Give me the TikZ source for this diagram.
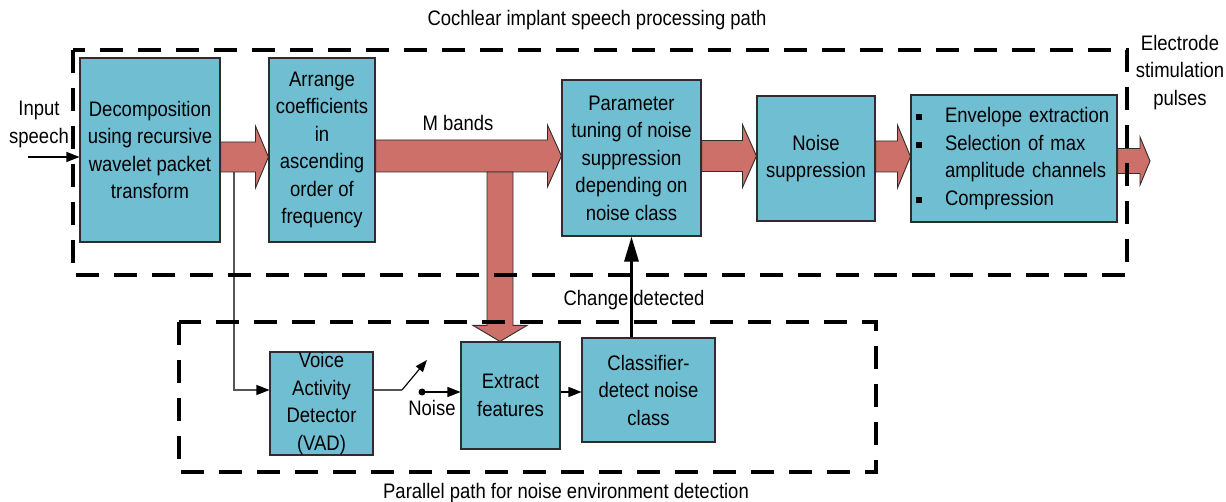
\documentclass[tikz,border=0pt]{standalone}
\usepackage{fontspec}
\setmainfont{Liberation Sans}[FakeStretch=0.88]
\usetikzlibrary{arrows.meta,calc}
\definecolor{boxfill}{RGB}{112,190,210}
\definecolor{bandfill}{RGB}{205,112,105}
\definecolor{edge}{RGB}{45,45,45}
\definecolor{wire}{RGB}{85,85,85}
\newcommand\labelfont{\fontsize{21}{27.5}\selectfont}
\newcommand\blt{\makebox[34pt][l]{\hspace{5pt}\raisebox{2.5pt}{\rule{6pt}{6pt}}}}
% wide band arrow pointing right: from point, to point, y centre, shaft half width, head half width, head length
\newcommand\fatright[6]{%
  \path[band] let \p1=(#1), \p2=(#2) in
    (\x1,#3-#4) -- (\x2-#6pt,#3-#4) -- (\x2-#6pt,#3-#5) -- (\x2,#3)
    -- (\x2-#6pt,#3+#5) -- (\x2-#6pt,#3+#4) -- (\x1,#3+#4) -- cycle;}
\begin{document}
\begin{tikzpicture}[x=1pt,y=-1pt,
  block/.style={draw=edge, line width=1.1pt, fill=boxfill, inner sep=0pt, align=center, font=\labelfont},
  caption/.style={inner sep=0pt, align=center, font=\labelfont},
  band/.style={draw=edge, line width=0.9pt, fill=bandfill},
  region/.style={line width=4pt, dash pattern=on 23pt off 15pt},
  signal/.style={line width=1.2pt, -{Triangle[length=13pt,width=10pt]}},
]
\useasboundingbox (0,0) rectangle (1226,502);

% processing blocks
\node[block, minimum width=140pt, minimum height=184pt] (dec) at (150,150)
  {Decomposition\\using recursive\\wavelet packet\\transform};
\node[block, minimum width=106pt, minimum height=184pt] (arr) at (322,150)
  {Arrange\\coefficients\\in\\ascending\\order of\\frequency};
\node[block, minimum width=139pt, minimum height=156pt] (par) at (631.5,158)
  {Parameter\\tuning of noise\\suppression\\depending on\\noise class};
\node[block, minimum width=118pt, minimum height=125pt] (ns) at (816,158.5)
  {Noise\\suppression};
\node[block, minimum width=206pt, minimum height=127pt, text width=206pt, align=left] (ops) at (1014,158.5)
  {\blt Envelope extraction\\\blt Selection of max\\\hspace*{34pt}amplitude channels\\\blt Compression};
\node[block, minimum width=103pt, minimum height=103pt] (vad) at (321.5,403.5)
  {Voice\\Activity\\Detector\\(VAD)};
\node[block, minimum width=99pt, minimum height=107pt] (ext) at (510.5,395.5)
  {Extract\\features};
\node[block, minimum width=133pt, minimum height=104pt] (cls) at (648.5,390)
  {Classifier-\\detect noise\\class};

% free ends and junctions
\coordinate (out) at (1150,161);
\coordinate (tap) at (234,172);
\coordinate (split) at (500,172);
\coordinate (src) at (28,157);
\coordinate (swA) at (402,390);
\coordinate (swB) at (427,360);
\coordinate (swC) at (422,392);

% side branch to the voice activity detector
\draw[wire, line width=1.2pt, -{Triangle[length=13pt,width=10pt,color=black]}]
  (tap) |- ($(vad.west)+(0,-13.5)$);

% band arrows
\fatright{dec.east}{arr.west}{157}{15}{31}{13}
\fatright{arr.east}{par.west}{156}{16}{31}{14}
\fatright{par.east}{ns.west}{156}{15.5}{31.5}{14}
\fatright{ns.east}{ops.west}{156.5}{15.5}{31.5}{13}
\fatright{ops.east}{out}{161}{12.5}{24}{10}
\path[band] let \p1=(split), \p2=($(ext.north)+(-10.5,0)$) in
  (\x1-13pt,\y1) -- (\x1+13pt,\y1) -- (\x1+13pt,\y2+16pt) -- (\x1+27pt,\y2+16pt)
  -- (\x2,\y2) -- (\x1-27pt,\y2+16pt) -- (\x1-13pt,\y2+16pt) -- cycle;

% signal lines
\draw[signal] (src) -- (src -| dec.west);
\draw[wire, line width=1.2pt] (vad.east |- swA) -- (swA);
\draw[line width=1.2pt, -{Triangle[length=12pt,width=9pt]}] (swA) -- (swB);
\fill (swC) circle (3.5);
\draw[signal] (swC) -- (swC -| ext.west);
\draw[signal] (ext.east |- swC) -- (cls.west |- swC);
\draw[line width=3pt, -{Triangle[length=25pt,width=14pt]}] (cls.north -| par.south) -- (par.south);

% labels
\node[caption] (ttl) at (597,20) {Cochlear implant speech processing path};
\node[caption] (ptl) at (566,493) {Parallel path for noise environment detection};
\node[caption] (insp) at (39,124.5) {Input\\speech};
\node[caption] (elec) at (1180,72.5) {Electrode\\stimulation\\pulses};
\node[caption] (mb) at (458,123) {M bands};
\node[caption] (chg) at (634,300) {Change detected};
\node[caption] (nl) at (432,408) {Noise};

% dashed regions
\draw[region] (73,50) rectangle (1127,275);
\draw[region] (179,322) rectangle (876,472);
\end{tikzpicture}
\end{document}
